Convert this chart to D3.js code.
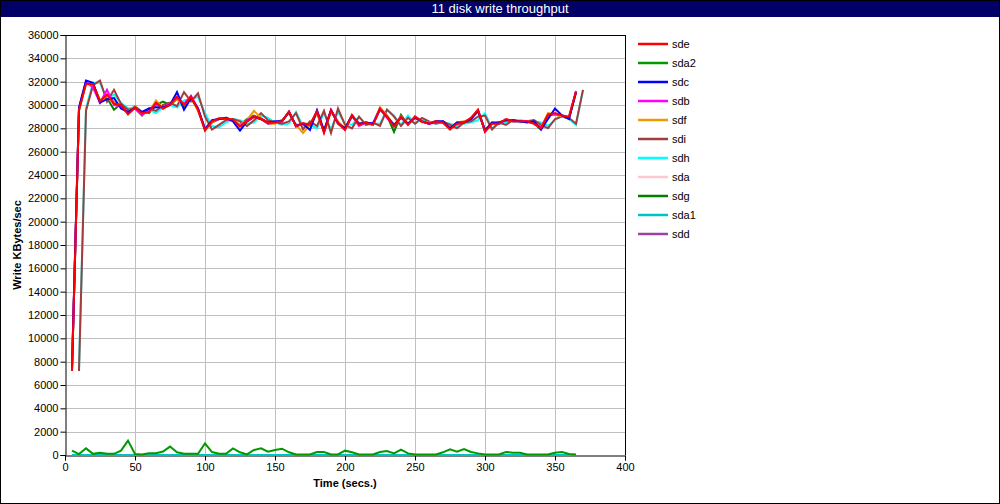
<!DOCTYPE html>
<html><head><meta charset="utf-8">
<script src="https://cdn.jsdelivr.net/npm/d3@7"></script>
<style>
html,body{margin:0;padding:0;background:#fff;}
svg{display:block;}
text{font-family:"Liberation Sans",Arial,sans-serif;}
</style></head>
<body><svg id="c" width="1000" height="504"></svg>
<script>
const title = "11 disk write throughput";
const xLabel = "Time (secs.)";
const yLabel = "Write KBytes/sec";
const xTicks = [0,50,100,150,200,250,300,350,400];
const yTicks = [0,2000,4000,6000,8000,10000,12000,14000,16000,18000,20000,22000,24000,26000,28000,30000,32000,34000,36000];
const times = [5,10,15,20,25,30,35,40,45,50,55,60,65,70,75,80,85,90,95,100,105,110,115,120,125,130,135,140,145,150,155,160,165,170,175,180,185,190,195,200,205,210,215,220,225,230,235,240,245,250,255,260,265,270,275,280,285,290,295,300,305,310,315,320,325,330,335,340,345,350,355,360,365,370];
const seriesNames = ["sde","sda2","sdc","sdb","sdf","sdi","sdh","sda","sdg","sda1","sdd"];
const seriesColors = ["#ff0000","#009900","#0000ff","#ff00ff","#ee9900","#a33c3c","#00ffff","#ffc8d0","#007f00","#00c4c4","#a040a0"];

const sde = [7200,29600,31800,31800,30300,30900,30100,30000,29200,29800, 29300,29400,30200,29700,30000,30700,30000,30700,29600,27800, 28600,28850,28850,28750,28150,28600,29000,28800,28500,28500, 28600,29450,28150,28450,28300,29450,27600,29550,28450,27850, 29150,28300,28500,28300,29700,29000,28150,29000,28300,29000, 28600,28400,28600,28500,27900,28400,28500,28900,29600,27700, 28400,28400,28800,28600,28600,28600,28400,28000,29200,29300, 29100,29000,31150,null];
const sda2 = [370,80,570,100,200,100,100,370,1230,80, 50,150,150,300,720,230,100,100,100,1000, 250,100,100,570,230,50,430,570,290,430, 540,230,50,50,50,260,260,50,50,370, 230,50,50,50,260,340,140,460,140,50, 50,50,50,230,490,290,510,260,140,50, 50,50,260,200,200,50,50,50,50,200, 260,80,50,null];
const sdc = [7400,29800,32100,31900,30200,30500,30600,29700,29400,29800, 29400,29700,29800,29800,30000,31100,29600,30600,29700,27900, 28700,28800,28900,28600,27800,28600,29000,28800,28500,28600, 28600,29400,28200,28400,27850,29550,27800,29550,28400,28000, 29100,28400,28500,28400,29600,29000,28300,28900,28400,28900, 28600,28400,28600,28600,28000,28500,28500,28800,29500,27800, 28500,28500,28700,28700,28600,28500,28600,27900,28800,29700, 29100,28800,31100,null];
const sdb = [7600,29700,32000,31500,30200,31300,30000,29900,29300,29700, 29200,29500,30100,29800,30100,30600,30100,30800,29700,27900, 28600,28800,28800,28700,28200,28700,29000,28800,28400,28500, 28600,29400,28200,28400,28300,29500,27700,29600,28500,27900, 29100,28200,28500,28400,29700,28900,28200,29000,28400,29000, 28600,28400,28500,28500,28000,28400,28500,28800,29500,27800, 28500,28400,28700,28600,28600,28600,28400,28100,29100,29200, 29100,28900,31200,null];
const sdf = [7300,29600,31800,31700,30400,30800,30300,29800,29400,29900, 29300,29400,30400,29700,30100,30500,30000,30600,29500,28000, 28500,28900,28800,28700,28300,28700,29500,28900,28400,28400, 28700,29300,28300,27600,28300,29300,27800,29400,28600,28000, 29100,28400,28500,28400,29800,29100,28300,29000,28400,28900, 28500,28500,28600,28500,28000,28500,28600,28800,29500,27800, 28400,28500,28700,28600,28700,28600,28400,28100,29300,29200, 29000,28900,31100,null];
const sdi = [null,7200,29500,31700,32100,30300,31300,30100,29600,29700,29100, 29700,29500,30000,30200,29900,31100,30300,31000,29000,27900, 28300,28700,28800,28600,28200,28700,29300,28700,28500,28400, 28600,29300,27900,28600,28200,29500,27600,29700,28300,28000, 29000,28300,28500,28200,29600,29000,28200,28900,28400,28900, 28600,28400,28600,28300,28000,28500,28600,29000,29100,27900, 28500,28300,28700,28600,28600,28700,28300,28000,28800,29000, 28900,28400,31300];
const sdh = [null,7300,29700,31900,31900,30500,30900,30200,29700,29800,29300, 29600,29300,29800,30000,29800,30400,30500,30700,29300,28200, 28100,28500,28800,28700,28400,28500,29100,28900,28500,28300, 28400,29400,28200,28300,28000,29300,27900,29400,28400,28300, 29000,28300,28400,28400,29600,29100,28300,29100,28400,28800, 28500,28400,28500,28400,28200,28400,28500,28700,29300,28000, 28400,28500,28700,28500,28600,28600,28500,28200,28700,29100, 28800,28300,31300];
const sda = [7500,29700,31900,31800,30300,30700,30200,30000,29300,29800, 29300,29400,30100,29800,30000,30600,30000,30700,29600,27900, 28600,28800,28800,28700,28200,28600,29000,28800,28500,28500, 28600,29400,28200,28400,28300,29400,27700,29500,28400,27900, 29100,28300,28500,28300,29600,29000,28200,29000,28300,28900, 28600,28400,28600,28500,27900,28400,28500,28900,29500,27800, 28400,28400,28800,28600,28600,28600,28400,28000,29200,29200, 29100,29000,31100,null];
const sdg = [7200,29500,31900,31800,30400,30600,29600,30100,29300,29900, 29400,29300,30000,30300,30000,30500,29900,30700,29600,28000, 28500,28800,28900,28700,28300,28800,29100,28800,28400,28500, 28700,29300,28300,28300,28200,29300,27800,29500,28500,28000, 29000,28400,28500,28300,29700,29100,27700,29150,28300,28900, 28600,28400,28600,28500,28000,28500,28500,28800,29500,27900, 28400,28500,28700,28600,28600,28600,28400,27900,29100,29200, 29000,28900,31100,null];
const sda1 = [0,0,0,0,0,0,0,0,0,0, 0,0,0,0,0,0,0,0,0,0, 0,0,0,0,0,0,0,0,0,0, 0,0,0,0,0,0,0,0,0,0, 0,0,0,0,0,0,0,0,0,0, 0,0,0,0,0,0,0,0,0,0, 0,0,0,0,0,0,0,0,0,0, 0,0,0,null];
const sdd = [7400,29600,31900,31800,30200,30800,30100,30000,29200,29800, 29300,29400,30200,29700,30000,30600,30000,30700,29600,27900, 28600,28800,28800,28700,28200,28600,29000,28800,28500,28500, 28600,29400,28200,28400,28300,29400,27700,29500,28400,27900, 29100,28300,28500,28300,29700,29000,28200,29000,28300,29000, 28600,28400,28600,28500,27900,28400,28500,28900,29600,27700, 28400,28400,28800,28600,28600,28600,28400,28000,29200,29300, 29100,29000,31100,null];
const seriesValues = [sde,sda2,sdc,sdb,sdf,sdi,sdh,sda,sdg,sda1,sdd];

const svg = d3.select("#c");
const W = 1000, H = 504;
const L = 65, R = 625, T = 35, B = 455;

svg.append("rect").attr("x",0.5).attr("y",0.5).attr("width",W-1).attr("height",H-1)
  .attr("fill","#fff").attr("stroke","#000");
svg.append("rect").attr("x",1).attr("y",1).attr("width",W-2).attr("height",16).attr("fill","#000066");
svg.append("text").attr("x",W/2).attr("y",13).attr("text-anchor","middle")
  .attr("fill","#fff").style("font-family","'Liberation Sans Narrow','Liberation Sans',Arial,sans-serif")
  .style("font-size","13px").text(title);

const x = d3.scaleLinear().domain([0,400]).range([L,R]);
const y = d3.scaleLinear().domain([0,36000]).range([B,T]);

// grid
const g = svg.append("g");
g.selectAll("line.h").data(yTicks.slice(1,-1)).enter().append("line")
  .attr("x1",L).attr("x2",R).attr("y1",d=>Math.round(y(d))+0.5).attr("y2",d=>Math.round(y(d))+0.5)
  .attr("stroke","#c0c0c0").attr("stroke-width",1);
g.selectAll("line.v").data(xTicks.slice(1,-1)).enter().append("line")
  .attr("y1",T).attr("y2",B).attr("x1",d=>Math.round(x(d))+0.5).attr("x2",d=>Math.round(x(d))+0.5)
  .attr("stroke","#c0c0c0").attr("stroke-width",1);

// frame top/right
svg.append("line").attr("x1",L).attr("x2",R+0.5).attr("y1",T+0.5).attr("y2",T+0.5).attr("stroke","#000");
svg.append("line").attr("x1",R+0.5).attr("x2",R+0.5).attr("y1",T).attr("y2",B).attr("stroke","#000");

// axes
const yAxis = d3.axisLeft(y).tickValues(yTicks).tickSize(5).tickPadding(2).tickFormat(d3.format("d"));
const xAxis = d3.axisBottom(x).tickValues(xTicks).tickSize(5).tickPadding(3).tickFormat(d3.format("d"));
const ya = svg.append("g").attr("transform",`translate(${L+0.5},0)`).call(yAxis);
const xa = svg.append("g").attr("transform",`translate(0,${B+0.5})`).call(xAxis);
[ya,xa].forEach(a=>{
  a.select(".domain").attr("stroke","#000");
  a.selectAll(".tick line").attr("stroke","#000");
  a.selectAll(".tick text").attr("fill","#000").style("font-size","11px").style("font-family","'Liberation Sans',Arial,sans-serif");
});

svg.append("text").attr("x",(L+R)/2).attr("y",487).attr("text-anchor","middle")
  .style("font-size","11px").style("font-weight","bold").text(xLabel);
svg.append("text").attr("transform",`translate(21,${(T+B)/2}) rotate(-90)`).attr("text-anchor","middle")
  .style("font-size","11px").style("font-weight","bold").text(yLabel);

// lines (drawn in reverse legend order so sde is on top)
const line = d3.line().defined(d=>d[1]!=null).x(d=>x(d[0])).y(d=>y(d[1]));
const lg = svg.append("g");
for (let i = seriesNames.length-1; i>=0; i--) {
  const pts = times.map((t,j)=>[t, seriesValues[i][j]]);
  lg.append("path").datum(pts).attr("d",line).attr("fill","none")
    .attr("stroke",seriesColors[i]).attr("stroke-width",2).attr("stroke-linejoin","miter");
}

// legend
const leg = svg.append("g");
seriesNames.forEach((n,i)=>{
  const yy = 44 + i*19;
  leg.append("line").attr("x1",638).attr("x2",668).attr("y1",yy).attr("y2",yy)
    .attr("stroke",seriesColors[i]).attr("stroke-width",2.5);
  leg.append("text").attr("x",672).attr("y",yy+4).style("font-size","11px").text(n);
});
</script></body></html>
